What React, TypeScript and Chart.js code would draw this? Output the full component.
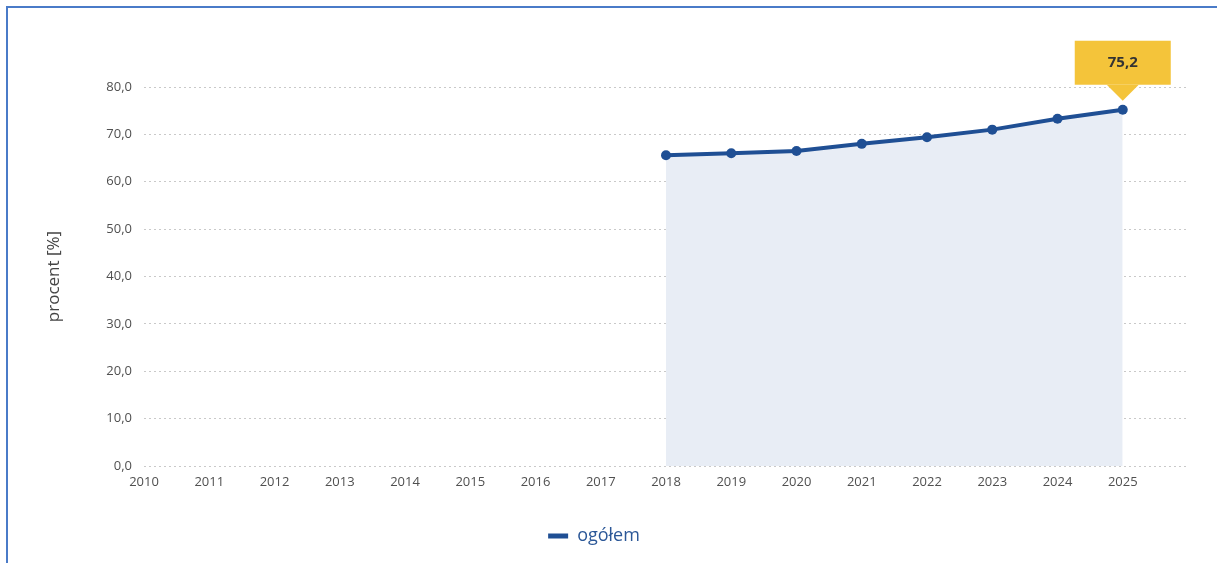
import React, { useEffect, useRef } from "react";
import { Chart, registerables } from "chart.js";

Chart.register(...registerables);

const years = ["2010","2011","2012","2013","2014","2015","2016","2017","2018","2019","2020","2021","2022","2023","2024","2025",""];
const ogolem: (number | null)[] = [null,null,null,null,null,null,null,null,65.6,66.0,66.5,68.0,69.4,71.0,73.3,75.2,null];
const seriesName = "ogółem";
const calloutLabel = "75,2";
const yTitle = "procent [%]";

const LINE = "#1f4f94";
const FILL = "#e8edf5";
const FONT = "'Open Sans', 'Noto Sans', sans-serif";

const calloutPlugin = {
  id: "callout",
  afterDatasetsDraw(chart: any) {
    const meta = chart.getDatasetMeta(0);
    let idx = -1;
    for (let i = ogolem.length - 1; i >= 0; i--) if (ogolem[i] != null) { idx = i; break; }
    if (idx < 0) return;
    const pt = meta.data[idx];
    const ctx = chart.ctx;
    const x = pt.x;
    const tipY = pt.y - 9;
    const boxBottom = tipY - 16;
    const boxTop = boxBottom - 44;
    const w = 96;
    ctx.save();
    ctx.fillStyle = "#f4c43a";
    ctx.fillRect(x - w / 2, boxTop, w, boxBottom - boxTop);
    ctx.beginPath();
    ctx.moveTo(x - 16, boxBottom);
    ctx.lineTo(x + 16, boxBottom);
    ctx.lineTo(x, tipY);
    ctx.closePath();
    ctx.fill();
    ctx.fillStyle = "#333333";
    ctx.font = `bold 15px ${FONT}`;
    ctx.textAlign = "center";
    ctx.textBaseline = "middle";
    ctx.fillText(calloutLabel, x, (boxTop + boxBottom) / 2);
    ctx.restore();
  },
};

export default function App() {
  const ref = useRef<HTMLCanvasElement | null>(null);
  useEffect(() => {
    if (!ref.current) return;
    const chart = new Chart(ref.current, {
      type: "line",
      data: {
        labels: years,
        datasets: [
          {
            label: seriesName,
            data: ogolem,
            borderColor: LINE,
            backgroundColor: LINE,
            borderWidth: 4,
            pointRadius: 5,
            pointBackgroundColor: LINE,
            pointBorderColor: LINE,
            pointBorderWidth: 0,
            fill: { target: "origin", above: FILL },
            tension: 0,
          } as any,
        ],
      },
      options: {
        responsive: false,
        animation: false,
        layout: { padding: { top: 87, right: 29, bottom: 8, left: 0 } },
        plugins: {
          legend: {
            position: "bottom",
            labels: {
              font: { family: FONT, size: 18 },
              color: "#2b5797",
              boxWidth: 20,
              boxHeight: 5,
              padding: 12,
              useBorderRadius: true,
              borderRadius: 2.5,
              generateLabels: () => [
                { text: seriesName, fillStyle: LINE, strokeStyle: LINE, lineWidth: 0, fontColor: "#2b5797", datasetIndex: 0 } as any,
              ],
            },
          },
          tooltip: { enabled: false },
        },
        scales: {
          x: {
            offset: false,
            grid: { display: false },
            border: { display: false },
            ticks: {
              font: { family: FONT, size: 13 },
              color: "#505050",
              padding: 0,
              maxRotation: 0,
              autoSkip: false,
            },
            afterFit: (s: any) => { s.height = 49; },
          },
          y: {
            min: 0,
            max: 80,
            grid: { color: "#c9c9c9", lineWidth: 1, drawTicks: false },
            border: { display: false, dash: [2, 3] },
            ticks: {
              stepSize: 10,
              font: { family: FONT, size: 13 },
              color: "#505050",
              padding: 12,
              callback: (v: any) => Number(v).toFixed(1).replace(".", ","),
            },
            title: {
              display: true,
              text: yTitle,
              font: { family: FONT, size: 17 },
              color: "#444444",
              padding: { top: 44, bottom: 0 },
            },
            afterFit: (s: any) => { s.width = 144; },
          },
        },
      },
      plugins: [calloutPlugin],
    });
    return () => chart.destroy();
  }, []);
  return (
    <div style={{ position: "fixed", left: 0, top: 0, width: 1217, height: 563, background: "#fff", overflow: "hidden" }}>
      <div style={{ position: "absolute", left: 6, top: 6, width: 1217, height: 563, borderTop: "2px solid #4a7bc8", borderLeft: "2px solid #4a7bc8" }} />
      <canvas ref={ref} width={1217} height={563} style={{ position: "absolute", left: 0, top: 0 }} />
    </div>
  );
}
